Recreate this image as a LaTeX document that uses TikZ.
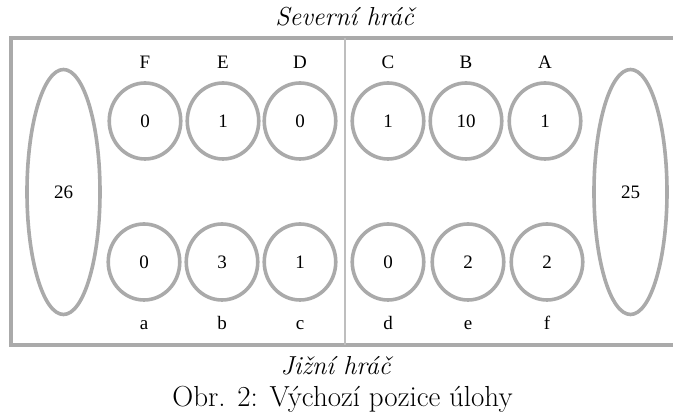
\documentclass[tikz,border=0pt]{standalone}
\usepackage{fontspec}
\newfontfamily\tms{Liberation Serif}
\usetikzlibrary{shapes.geometric}
\definecolor{boardgray}{RGB}{170,170,170}
\definecolor{divgray}{RGB}{190,190,190}
\tikzset{
  pit/.style={draw=boardgray, line width=3.6pt, ellipse, minimum width=71.5pt, minimum height=76pt, inner sep=0pt},
  store/.style={draw=boardgray, line width=3.6pt, ellipse, minimum width=73pt, minimum height=245pt, inner sep=0pt},
  num/.style={font=\tms\fontsize{19}{19}\selectfont},
  lbl/.style={font=\tms\fontsize{19}{19}\selectfont, anchor=base, inner sep=0pt},
  captext/.style={font=\fontsize{26}{26}\selectfont, anchor=base, inner sep=0pt},
  capbig/.style={font=\fontsize{29}{29}\selectfont, anchor=base, inner sep=0pt},
}
\begin{document}
\begin{tikzpicture}[x=1pt,y=1pt]
\useasboundingbox (0,0) rectangle (673,417);
\draw[boardgray, line width=4pt] (11,379) rectangle (690,72);
\coordinate (dtop) at (345,379);
\coordinate (dbot) at (345,72);
\draw[divgray, line width=1.6pt] (dtop) -- (dbot);
% stores
\node[store, num] (sN) at (63.5,225) {26};
\node[store, num] (sS) at (630.5,225) {25};
% north pits
\node[pit, num] (F) at (145,296) {0};
\node[pit, num] (E) at (223,296) {1};
\node[pit, num] (D) at (300,296) {0};
\node[pit, num] (C) at (388,296) {1};
\node[pit, num] (B) at (466,296) {10};
\node[pit, num] (A) at (545,296) {1};
% south pits
\node[pit, num] (a) at (144,155) {0};
\node[pit, num] (b) at (222,155) {3};
\node[pit, num] (c) at (300,155) {1};
\node[pit, num] (d) at (388,155) {0};
\node[pit, num] (e) at (468,155) {2};
\node[pit, num] (f) at (547,155) {2};
% letters
\node[lbl] (lF) at (145,348) {F};
\node[lbl] (lE) at (223,348) {E};
\node[lbl] (lD) at (300,348) {D};
\node[lbl] (lC) at (388,348) {C};
\node[lbl] (lB) at (466,348) {B};
\node[lbl] (lA) at (545,348) {A};
\node[lbl] (la) at (144,87) {a};
\node[lbl] (lb) at (222,87) {b};
\node[lbl] (lc) at (300,87) {c};
\node[lbl] (ld) at (388,87) {d};
\node[lbl] (le) at (468,87) {e};
\node[lbl] (lf) at (547,87) {f};
% captions
\node[captext] (north) at (346,391) {\textit{Severní hráč}};
\node[captext] (south) at (337,42) {\textit{Jižní hráč}};
\node[capbig] (caption) at (342.5,10) {Obr. 2: Výchozí pozice úlohy};
\end{tikzpicture}
\end{document}
